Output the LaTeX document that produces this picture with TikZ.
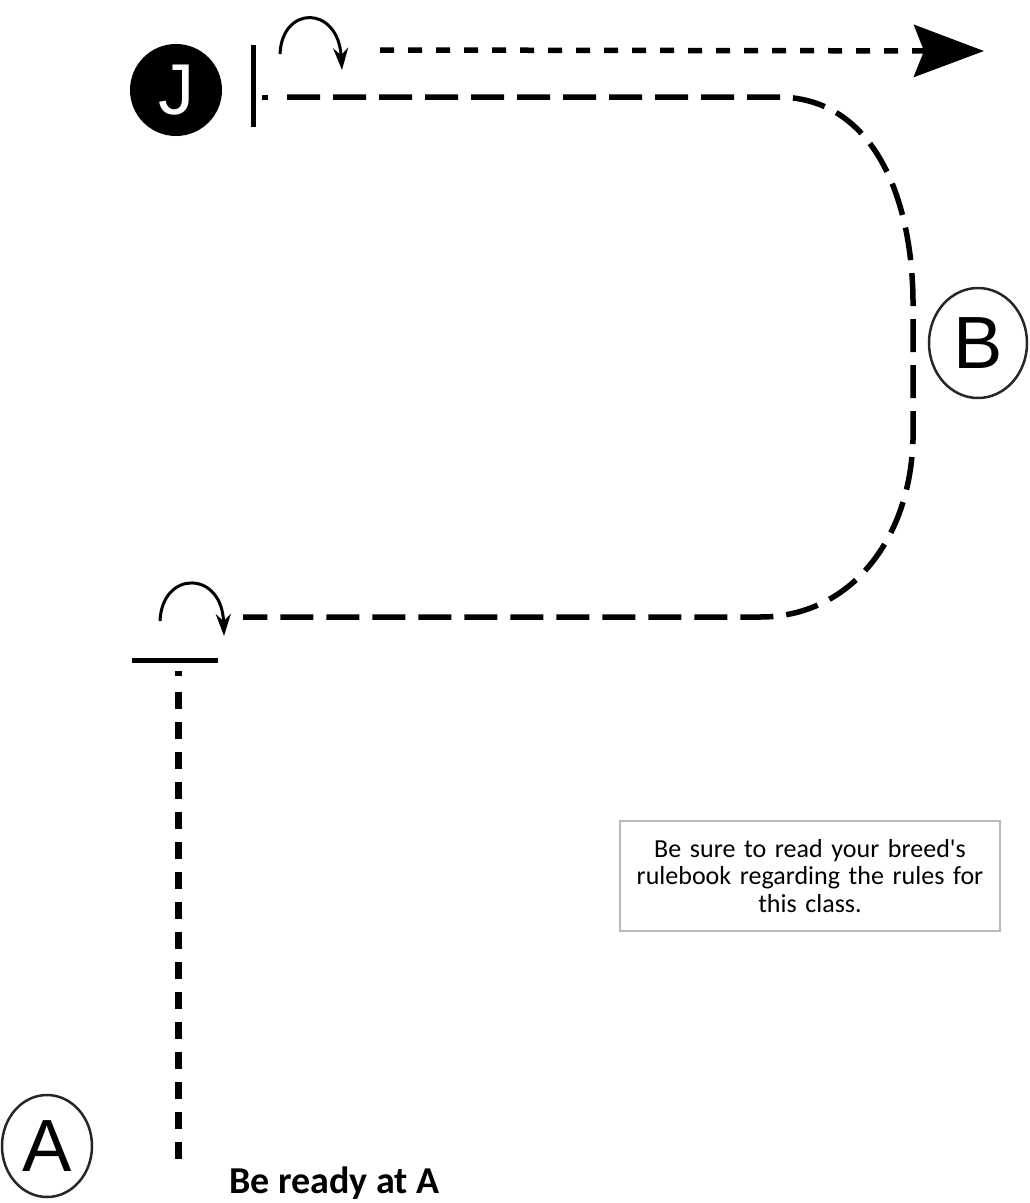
\documentclass[tikz,border=0pt]{standalone}
\usepackage{fontspec}
\setmainfont{Carlito}
\newfontfamily\lettrfont{Liberation Sans}
\usetikzlibrary{arrows.meta,shapes.geometric}
\begin{document}
\begin{tikzpicture}[x=1pt,y=-1pt,
  loopline/.style={line width=5.5pt, dash pattern=on 33pt off 13pt},
  topline/.style={line width=5.5pt, dash pattern=on 14pt off 14pt},
  aline/.style={line width=7pt, dash pattern=on 17pt off 13pt},
  turnarrow/.style={line width=3pt, -{Stealth[length=22pt,width=15pt]}},
  barline/.style={line width=5pt},
  markletter/.style={ellipse, draw=black!85, line width=2.5pt, inner sep=0pt,
    font=\lettrfont\fontsize{74}{74}\selectfont},
  notebox/.style={draw=black!28, line width=1.5pt, fill=white, minimum width=380pt,
    minimum height=110pt, text width=370pt, align=center,
    font=\fontsize{26}{27.5}\selectfont}
]
\useasboundingbox (0,0) rectangle (1029,1203);

% markers
\node[circle, fill=black, minimum size=92pt, inner sep=0pt, text=white,
      font=\lettrfont\fontsize{72}{72}\selectfont] (J) at (176,90) {J};
\node[markletter, minimum width=98pt, minimum height=110pt] (B) at (978,343) {B};
\node[markletter, minimum width=90pt, minimum height=102pt] (A) at (47,1146) {A};

% J bar
\coordinate (barT) at (253,45);
\coordinate (barB) at (253,127);
\draw[barline] (barT) -- (barB);

% main loop
\coordinate (d0) at (262,97);
\coordinate (d1) at (268,97);
\coordinate (p0) at (287,97);
\coordinate (p1) at (780,97);
\coordinate (p2) at (913,300);
\coordinate (p3) at (913,440);
\coordinate (p4) at (760,617);
\coordinate (p5) at (243,617);
\draw[barline] (d0) -- (d1);
\draw[loopline] (p0) -- (p1) .. controls (875,99) and (912,200) .. (p2)
  -- (p3) .. controls (910,540) and (850,617) .. (p4) -- (p5);

% exit arrow
\coordinate (q0) at (380,50);
\coordinate (q1) at (984,51);
\draw[topline, -{Stealth[length=70pt,width=52pt,inset=10pt]}] (q0) -- (q1);

% turn arrows
\coordinate (c0) at (280,54);
\coordinate (c1) at (342,70);
\draw[turnarrow] (c0) .. controls (282,5) and (338,5) .. (c1);
\coordinate (c2) at (160,621);
\coordinate (c3) at (224,636);
\draw[turnarrow] (c2) .. controls (162,570) and (222,570) .. (c3);

% start bar and approach line
\coordinate (hb0) at (132,660);
\coordinate (hb1) at (218,660);
\draw[barline] (hb0) -- (hb1);
\coordinate (v0) at (178,671);
\coordinate (v1) at (178,676);
\draw[line width=7pt] (v0) -- (v1);
\coordinate (v2) at (178,692);
\coordinate (v3) at (178,1162);
\draw[aline] (v2) -- (v3);

% note
\node[notebox] (note) at (810,876) {Be sure to read your breed\textquotesingle s\\rulebook regarding the rules for\\this class.};

\node[anchor=base west, inner sep=0pt, font=\bfseries\fontsize{38}{38}\selectfont] (ready) at (229,1193) {Be ready at A};
\end{tikzpicture}
\end{document}
